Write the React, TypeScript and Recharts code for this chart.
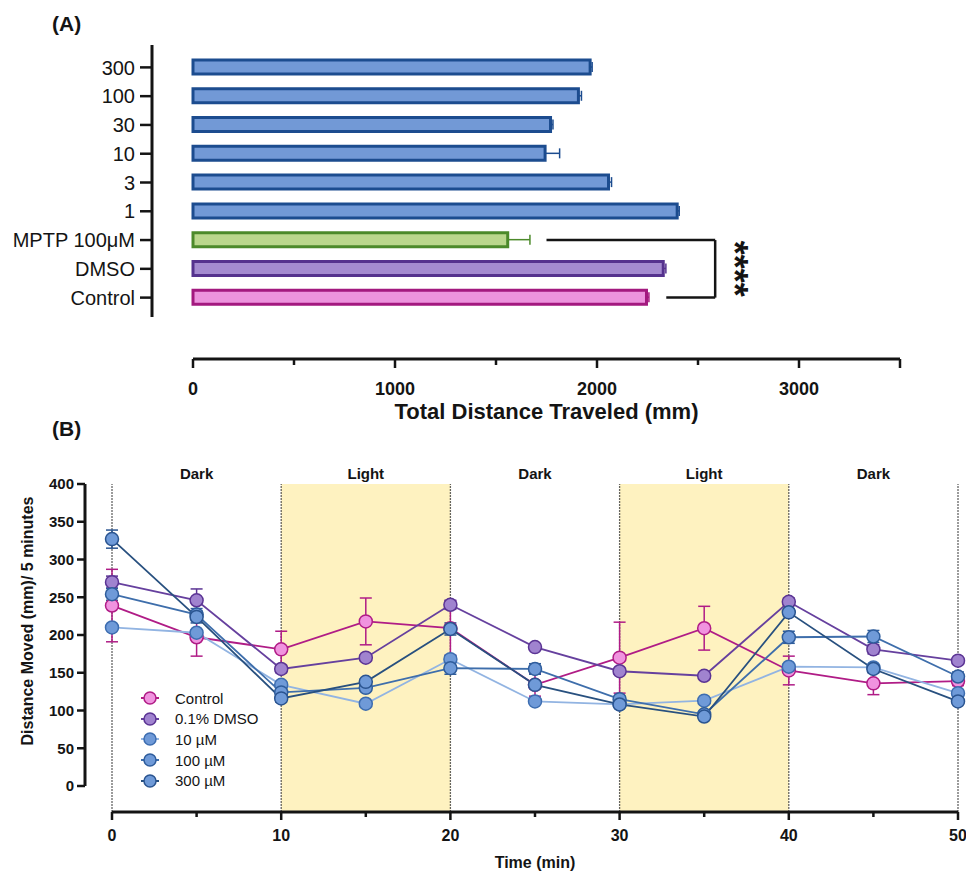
import React from "react";
import {
  BarChart, Bar, XAxis, YAxis, ErrorBar, ReferenceLine, ReferenceArea,
  LineChart, Line, Legend,
} from "recharts";

const SANS = "'Liberation Sans', Arial, Helvetica, sans-serif";
const INK = "#141414";

// (A) total distance traveled per group
const groupLabels = ["300", "100", "30", "10", "3", "1", "MPTP 100μM", "DMSO", "Control"];
const groupKinds = ["dose", "dose", "dose", "dose", "dose", "dose", "mptp", "dmso", "control"];
const totalDistance = [1966, 1908, 1770, 1743, 2057, 2397, 1558, 2328, 2245];
const totalSem = [10, 15, 12, 72, 15, 10, 110, 13, 12];
const distanceTicks = [0, 500, 1000, 1500, 2000, 2500, 3000, 3500];

// (B) distance per 5 min bin
const timePoints = [0, 5, 10, 15, 20, 25, 30, 35, 40, 45, 50];
const controlMean = [239, 197, 181, 218, 209, 134, 170, 209, 153, 136, 139];
const controlSem = [48, 25, 24, 31, 36, 15, 47, 29, 19, 15, 6];
const dmsoMean = [270, 246, 155, 170, 240, 184, 152, 146, 244, 181, 166];
const dmsoSem = [8, 15, 5, 4, 6, 4, 4, 4, 5, 6, 4];
const c10Mean = [210, 203, 134, 109, 168, 112, 108, 113, 158, 157, 123];
const c10Sem = [4, 4, 4, 3, 5, 3, 3, 3, 4, 4, 4];
const c100Mean = [254, 227, 124, 130, 156, 155, 115, 95, 197, 198, 145];
const c100Sem = [8, 8, 5, 4, 8, 7, 4, 4, 8, 8, 6];
const c300Mean = [327, 224, 116, 138, 208, 134, 108, 92, 230, 155, 112];
const c300Sem = [12, 8, 5, 4, 8, 5, 4, 4, 5, 5, 4];
const movedTicks = [0, 50, 100, 150, 200, 250, 300, 350, 400];

const phases = [
  { from: 0, to: 10, label: "Dark" },
  { from: 10, to: 20, label: "Light" },
  { from: 20, to: 30, label: "Dark" },
  { from: 30, to: 40, label: "Light" },
  { from: 40, to: 50, label: "Dark" },
];
const phaseEdges = [0, 10, 20, 30, 40, 50];

const barStyles = [
  { key: "dose", fill: "#7299d6", stroke: "#1c4c8f" },
  { key: "mptp", fill: "#bad78c", stroke: "#4c8a2a" },
  { key: "dmso", fill: "#a48bd0", stroke: "#55328e" },
  { key: "control", fill: "#ec93dd", stroke: "#a3197f" },
];

const seriesB = [
  { key: "control", name: "Control", mean: controlMean, sem: controlSem, line: "#b01c86", fill: "#f093df", stroke: "#b01c86" },
  { key: "dmso", name: "0.1% DMSO", mean: dmsoMean, sem: dmsoSem, line: "#66409e", fill: "#a083cf", stroke: "#5b3494" },
  { key: "c10", name: "10 µM", mean: c10Mean, sem: c10Sem, line: "#92b4e2", fill: "#6f9ad8", stroke: "#3d6db0" },
  { key: "c100", name: "100 µM", mean: c100Mean, sem: c100Sem, line: "#3e6eab", fill: "#6f9ad8", stroke: "#2f5d9c" },
  { key: "c300", name: "300 µM", mean: c300Mean, sem: c300Sem, line: "#28507f", fill: "#6f9ad8", stroke: "#2a5490" },
];

const barData = groupLabels.map((label, i) => {
  const row: any = { label };
  row[groupKinds[i]] = totalDistance[i];
  row[groupKinds[i] + "Err"] = [0, totalSem[i]];
  return row;
});

const lineData = timePoints.map((t, i) => {
  const row: any = { t };
  seriesB.forEach((s) => {
    row[s.key] = s.mean[i];
    row[s.key + "Err"] = s.sem[i];
  });
  return row;
});

function CategoryTick({ x, y, payload }: any) {
  return (
    <g>
      <line x1={x - 53} x2={x - 41} y1={y} y2={y} stroke={INK} strokeWidth={2.5} />
      <text x={x - 58} y={y} dy="0.36em" textAnchor="end" fontFamily={SANS} fontSize={20} fill={INK}>
        {payload.value}
      </text>
    </g>
  );
}

function DistanceTick({ x, y, payload }: any) {
  const v = payload.value;
  const labelled = v % 1000 === 0;
  const top = y + 42;
  return (
    <g>
      <line x1={x} x2={x} y1={top} y2={top + (labelled || v === 3500 ? 9 : 6)} stroke={INK} strokeWidth={2.5} />
      {labelled && (
        <text x={x} y={y + 78} textAnchor="middle" fontFamily={SANS} fontWeight={700} fontSize={18} fill={INK}>
          {v}
        </text>
      )}
    </g>
  );
}

function MovedTick({ x, y, payload }: any) {
  return (
    <g>
      <line x1={x - 35} x2={x - 27} y1={y} y2={y} stroke={INK} strokeWidth={2.5} />
      <text x={x - 38} y={y} dy="0.36em" textAnchor="end" fontFamily={SANS} fontWeight={700} fontSize={15} fill={INK}>
        {payload.value}
      </text>
    </g>
  );
}

function TimeTick({ x, y, payload }: any) {
  const major = payload.value % 10 === 0;
  const top = y + 26;
  return (
    <g>
      <line x1={x} x2={x} y1={top} y2={top + (major ? 8 : 5)} stroke={INK} strokeWidth={2.5} />
      {major && (
        <text x={x} y={y + 55} textAnchor="middle" fontFamily={SANS} fontWeight={700} fontSize={16} fill={INK}>
          {payload.value}
        </text>
      )}
    </g>
  );
}

function Stars(props: any) {
  const vb = props.viewBox || { x: 0, y: 0, width: 0, height: 0 };
  const cx = vb.x + vb.width + 19;
  const cy = vb.y + vb.height / 2;
  return (
    <text
      transform={`translate(${cx},${cy}) rotate(90)`}
      textAnchor="middle"
      dominantBaseline="central"
      fontFamily={SANS}
      fontWeight={700}
      fontSize={36}
      fill={INK}
    >
      ****
    </text>
  );
}

function MovedTitle() {
  return (
    <text
      transform="translate(27,201) rotate(-90)"
      textAnchor="middle"
      dominantBaseline="central"
      fontFamily={SANS}
      fontWeight={700}
      fontSize={16}
      fill={INK}
    >
      Distance Moved (mm)/ 5 minutes
    </text>
  );
}

function TimeLegend() {
  return (
    <div style={{ fontFamily: SANS, fontSize: 15, color: INK }}>
      {seriesB.map((s) => (
        <div key={s.key} style={{ display: "flex", alignItems: "center", height: 20.6 }}>
          <svg width={18} height={16} style={{ marginRight: 16 }}>
            <line x1={0} x2={18} y1={8} y2={8} stroke={s.line} strokeWidth={2} />
            <circle cx={9} cy={8} r={6} fill={s.fill} stroke={s.stroke} strokeWidth={1.5} />
          </svg>
          <span>{s.name}</span>
        </div>
      ))}
    </div>
  );
}

export default function App() {
  return (
    <div style={{ position: "absolute", left: 0, top: 0, width: 966, height: 878, background: "#fff", overflow: "hidden" }}>
      <div style={{ position: "absolute", left: 0, top: 0 }}>
        <BarChart
          width={966}
          height={430}
          data={barData}
          layout="vertical"
          margin={{ top: 45, right: 66, bottom: 0, left: 0 }}
        >
          <XAxis
            type="number"
            domain={[0, 3500]}
            ticks={distanceTicks}
            interval={0}
            height={113}
            tickSize={0}
            tickMargin={0}
            tickLine={false}
            tick={<DistanceTick />}
            axisLine={{ stroke: INK, strokeWidth: 3, transform: "translate(0,42)" }}
            label={{
              value: "Total Distance Traveled (mm)",
              position: "insideBottom",
              offset: 11,
              fontFamily: SANS,
              fontWeight: 700,
              fontSize: 22,
              fill: INK,
            }}
          />
          <YAxis
            type="category"
            dataKey="label"
            width={193}
            interval={0}
            padding={{ top: 8, bottom: 5 }}
            tickSize={0}
            tickMargin={0}
            tickLine={false}
            tick={<CategoryTick />}
            axisLine={{ stroke: INK, strokeWidth: 3, transform: "translate(-41,0)" }}
          />
          {barStyles.map((b) => (
            <Bar
              key={b.key}
              dataKey={b.key}
              stackId="a"
              barSize={14}
              fill={b.fill}
              stroke={b.stroke}
              strokeWidth={3}
              isAnimationActive={false}
            >
              <ErrorBar dataKey={b.key + "Err"} direction="x" width={5} stroke={b.stroke} strokeWidth={1.5} />
            </Bar>
          ))}
          <ReferenceLine
            segment={[{ x: 1750, y: "MPTP 100μM" }, { x: 2585, y: "MPTP 100μM" }]}
            stroke={INK}
            strokeWidth={2.5}
          />
          <ReferenceLine
            segment={[{ x: 2343, y: "Control" }, { x: 2585, y: "Control" }]}
            stroke={INK}
            strokeWidth={2.5}
          />
          <ReferenceLine
            segment={[{ x: 2585, y: "MPTP 100μM" }, { x: 2585, y: "Control" }]}
            stroke={INK}
            strokeWidth={2.5}
            label={{ content: Stars }}
          />
        </BarChart>
      </div>

      <div style={{ position: "absolute", left: 0, top: 420 }}>
        <LineChart width={966} height={458} data={lineData} margin={{ top: 64, right: 8, bottom: 0, left: 0 }}>
          {phases.map((p, i) => (
            <ReferenceArea
              key={"area" + i}
              x1={p.from}
              x2={p.to}
              y1={-34}
              y2={400}
              ifOverflow="visible"
              fill="#fef2c0"
              fillOpacity={p.label === "Light" ? 1 : 0}
              stroke="none"
              label={{ value: p.label, position: "top", offset: 5, fontFamily: SANS, fontWeight: 700, fontSize: 15, fill: INK }}
            />
          ))}
          {phaseEdges.map((e) => (
            <ReferenceLine
              key={"edge" + e}
              segment={[{ x: e, y: -34 }, { x: e, y: 400 }]}
              ifOverflow="visible"
              stroke="#333"
              strokeWidth={1.3}
              strokeDasharray="1.5 1.5"
            />
          ))}
          <XAxis
            dataKey="t"
            type="number"
            domain={[0, 50]}
            ticks={timePoints}
            interval={0}
            height={92}
            tickSize={0}
            tickMargin={0}
            tickLine={false}
            tick={<TimeTick />}
            axisLine={{ stroke: INK, strokeWidth: 3, transform: "translate(0,26)" }}
            label={{ value: "Time (min)", position: "insideBottom", offset: 10, fontFamily: SANS, fontWeight: 700, fontSize: 16, fill: INK }}
          />
          <YAxis
            type="number"
            domain={[0, 400]}
            ticks={movedTicks}
            interval={0}
            width={112}
            tickSize={0}
            tickMargin={0}
            tickLine={false}
            tick={<MovedTick />}
            axisLine={{ stroke: INK, strokeWidth: 3, transform: "translate(-27,0)" }}
            label={{ content: MovedTitle }}
          />
          {seriesB.map((s) => (
            <Line
              key={s.key}
              dataKey={s.key}
              type="linear"
              stroke={s.line}
              strokeWidth={1.8}
              dot={{ r: 6.5, fill: s.fill, stroke: s.stroke, strokeWidth: 1.5 }}
              activeDot={false}
              isAnimationActive={false}
            >
              <ErrorBar dataKey={s.key + "Err"} direction="y" width={6} stroke={s.stroke} strokeWidth={1.5} />
            </Line>
          ))}
          <Legend
            layout="vertical"
            align="center"
            verticalAlign="middle"
            wrapperStyle={{ left: 141, top: 268, width: 170, height: 110 }}
            content={() => <TimeLegend />}
          />
        </LineChart>
      </div>

      <div style={{ position: "absolute", left: 52, top: 12, fontFamily: SANS, fontWeight: 700, fontSize: 21, color: INK }}>
        (A)
      </div>
      <div style={{ position: "absolute", left: 52, top: 417, fontFamily: SANS, fontWeight: 700, fontSize: 21, color: INK }}>
        (B)
      </div>
    </div>
  );
}
